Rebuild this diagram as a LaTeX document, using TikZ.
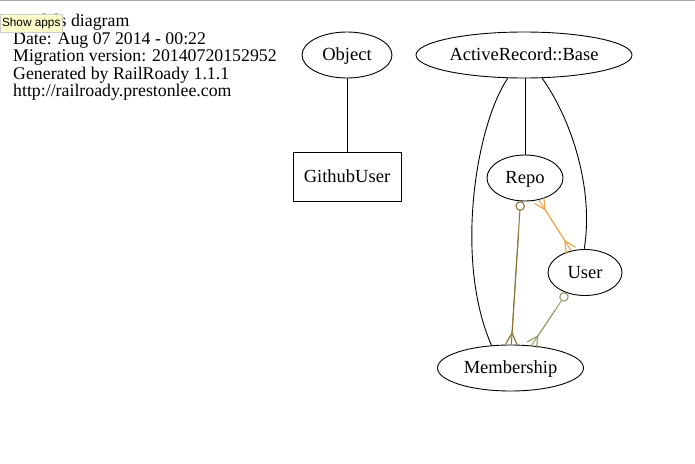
\documentclass[tikz,border=0pt]{standalone}
\usepackage{fontspec}
\setmainfont{Liberation Serif}
\newfontfamily\tipfont{Liberation Sans}
\usetikzlibrary{shapes.geometric,arrows.meta}
\definecolor{cbrown}{HTML}{8B7335}
\definecolor{cgreen}{HTML}{949F6C}
\definecolor{corange}{HTML}{F0A64C}
\definecolor{tipyellow}{HTML}{FFFFC8}
\tikzset{
  ent/.style={draw, ellipse, line width=0.9pt, inner sep=0pt, minimum height=46pt,
    text height=12pt, text depth=1pt, font=\fontsize{18.5pt}{20pt}\selectfont},
  entbox/.style={draw, rectangle, line width=0.9pt, inner sep=0pt,
    text height=12pt, text depth=1pt, font=\fontsize{18.5pt}{20pt}\selectfont},
  inh/.style={line width=0.9pt},
  crowtip/.tip={Straight Barb[reversed,length=11pt,width=11pt,line width=1.2pt]},
  odottip/.tip={Circle[open,length=9.5pt,width=9.5pt,line width=1.1pt]},
  rel/.style={line width=1pt},
}
\begin{document}
\begin{tikzpicture}[x=1pt,y=-1pt]
\useasboundingbox (0,0) rectangle (695,463);
\draw[gray!70, line width=1.2pt] (0,0.6) -- (695,0.6);

% title text
\node[anchor=north west, inner sep=0pt, align=left,
  font=\fontsize{17.8pt}{17.5pt}\selectfont] (title) at (13,14)
  {Models diagram\\Date: Aug 07 2014 - 00:22\\Migration version: 20140720152952\\Generated by RailRoady 1.1.1\\http://railroady.prestonlee.com};

% tooltip
\node[anchor=north west, inner sep=0pt, minimum width=62pt, minimum height=18.5pt,
  fill=tipyellow, fill opacity=0.95, text opacity=1, draw=gray!40, line width=0.5pt,
  font=\tipfont\fontsize{11.8pt}{12pt}\selectfont] (tip) at (0,13.5) {Show apps};

% nodes
\node[ent, minimum width=90pt] (Obj) at (347,55) {Object};
\node[ent, minimum width=216pt] (AR) at (524,55) {ActiveRecord::Base};
\node[entbox, minimum width=108pt, minimum height=49pt] (GH) at (347,176.5) {GithubUser};
\node[ent, minimum width=76pt] (Repo) at (525,178) {Repo};
\node[ent, minimum width=74pt] (User) at (585,272.5) {User};
\node[ent, minimum width=146pt] (Mem) at (510.5,368) {Membership};

% inheritance
\draw[inh] (Obj) -- (GH);
\draw[inh] (AR.south -| Repo.north) -- (Repo.north);
\draw[inh] (AR.235) .. controls (476,125) and (454,260) .. (Mem.130);
\draw[inh] (AR.308) .. controls (572,120) and (594,190) .. (User.92);

% relations
\draw[rel, cbrown, {odottip}-] (Repo.259) -- (Mem.88);
\draw[rel, cbrown, -{crowtip}, shorten <=30pt] (Repo.259) -- (Mem.88);

\draw[rel, corange] (Repo) -- (User);
\draw[rel, corange, {crowtip}-{crowtip}] (Repo) -- (User);

\draw[rel, cgreen, {odottip}-] (User.228) -- (Mem.47);
\draw[rel, cgreen, -{crowtip}, shorten <=20pt] (User.228) -- (Mem.47);
\end{tikzpicture}
\end{document}
